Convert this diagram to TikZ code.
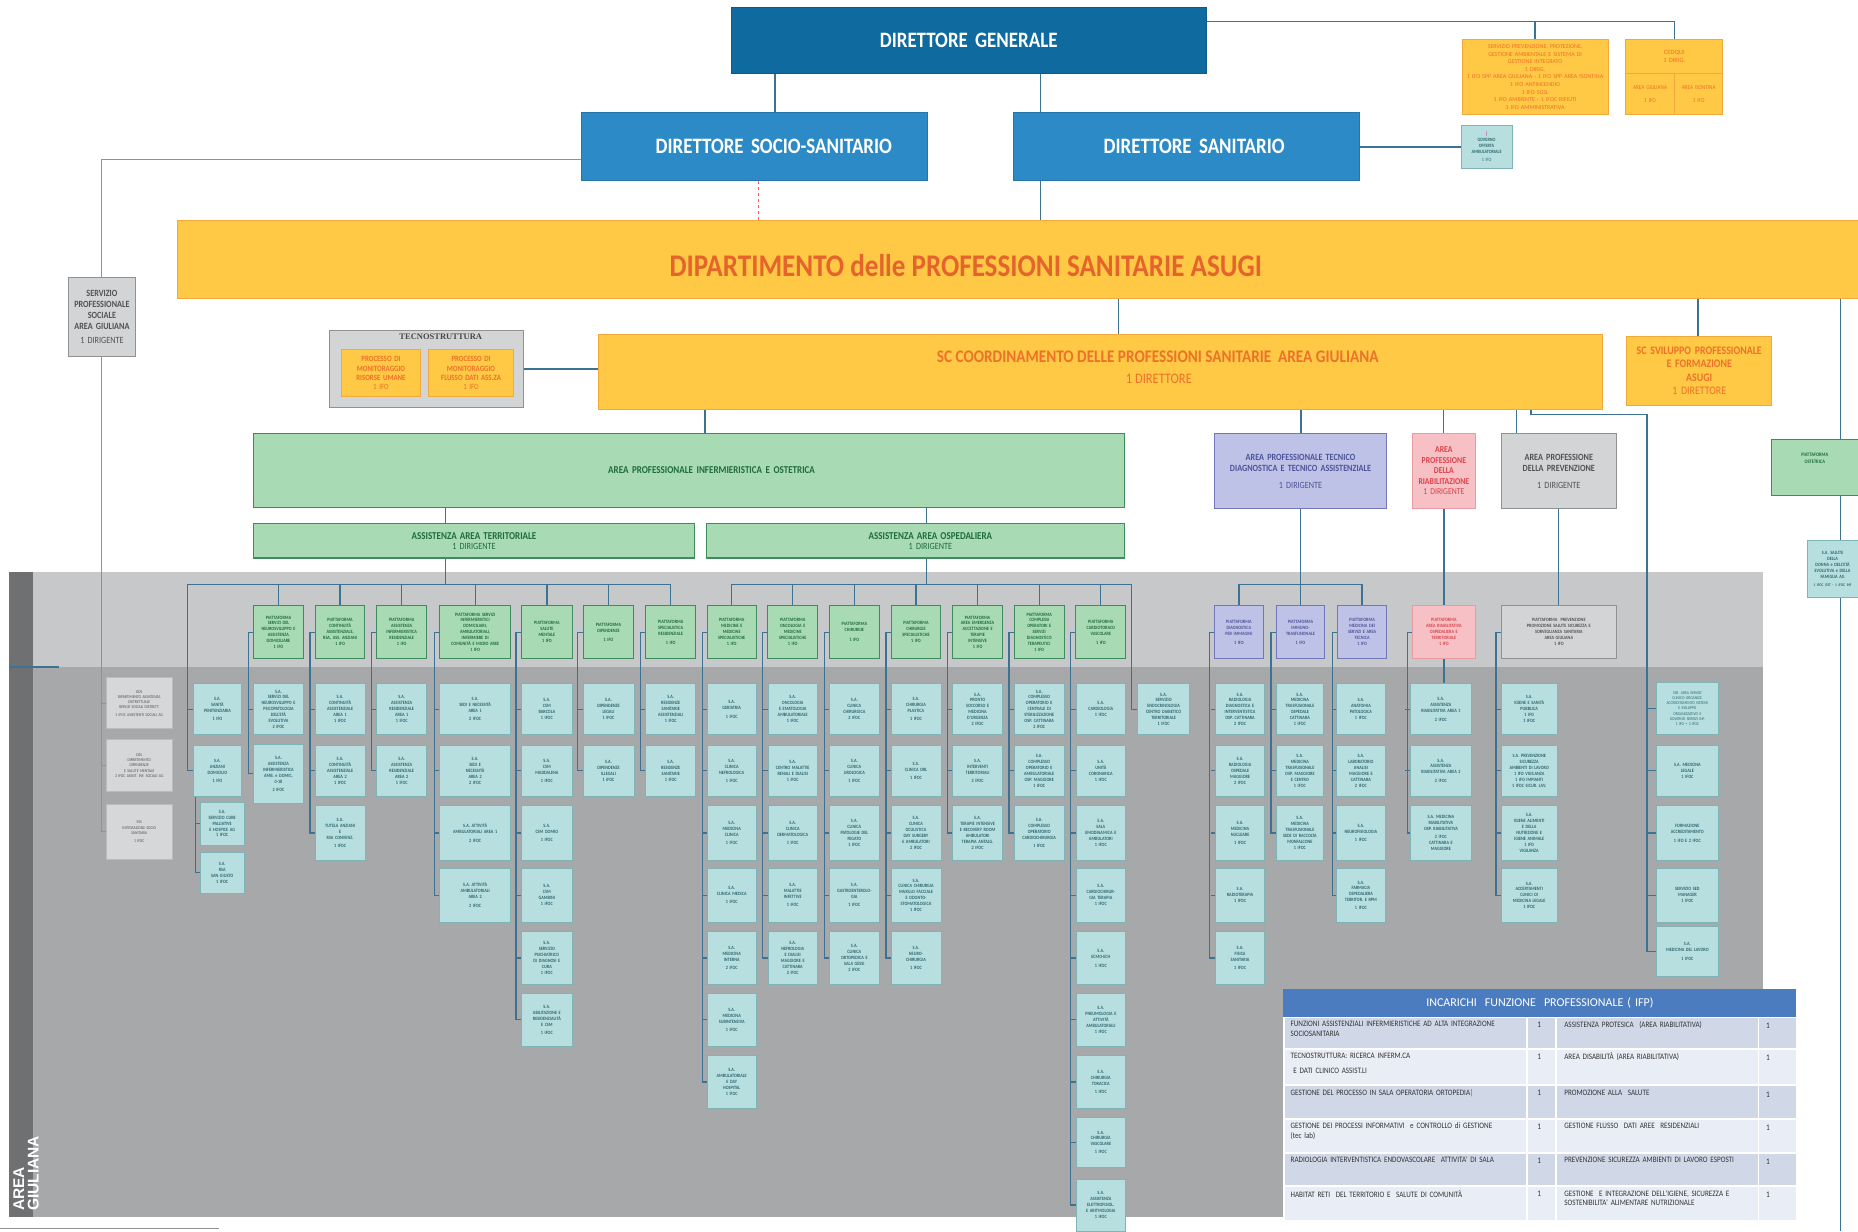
\documentclass[tikz,border=0pt]{standalone}
\usepackage{fontspec}
\setmainfont{Carlito}
\newfontfamily\condf[FakeStretch=0.86]{Carlito}
\newfontfamily\serff{Liberation Serif}
\newfontfamily\sansb{Liberation Sans}
\usetikzlibrary{calc}
\definecolor{dgblue}{HTML}{0E6A9F}
\definecolor{dsblue}{HTML}{2C8BC6}
\definecolor{goldf}{HTML}{FFC845}
\definecolor{goldb}{HTML}{F2A93B}
\definecolor{orangetxt}{HTML}{EC7229}
\definecolor{diptxt}{HTML}{E4642B}
\definecolor{greenf}{HTML}{A8DBB3}
\definecolor{greenb}{HTML}{3E8C5E}
\definecolor{greent}{HTML}{1F6B3C}
\definecolor{tealf}{HTML}{B7DFDF}
\definecolor{tealb}{HTML}{7FB3B6}
\definecolor{tealt}{HTML}{2F6770}
\definecolor{purf}{HTML}{BEC2E7}
\definecolor{purb}{HTML}{7177BA}
\definecolor{purt}{HTML}{4C5399}
\definecolor{pinkf}{HTML}{F7C0C4}
\definecolor{pinkb}{HTML}{E89CA2}
\definecolor{pinkt}{HTML}{D8434C}
\definecolor{greyf}{HTML}{D3D4D5}
\definecolor{greyb}{HTML}{8F9193}
\definecolor{greyt}{HTML}{505254}
\definecolor{lgf}{HTML}{D6D7D8}
\definecolor{lgb}{HTML}{B9BBBD}
\definecolor{linec}{HTML}{3D7392}
\definecolor{bandl}{HTML}{C7C8C9}
\definecolor{bandd}{HTML}{A6A8AA}
\definecolor{bands}{HTML}{6E7072}
\definecolor{tabhead}{HTML}{4B7CBF}
\definecolor{tabrowd}{HTML}{D0D8E8}
\definecolor{tabrowl}{HTML}{E9EDF5}
\newcommand\tinyf{\condf\bfseries\fontsize{4.9}{5.9}\selectfont\hyphenpenalty=10000\exhyphenpenalty=10000\relax}
\newcommand\tinyg{\condf\fontsize{4.3}{5.2}\selectfont\hyphenpenalty=10000\exhyphenpenalty=10000\relax}
\tikzset{
 conn/.style={draw=linec, line width=1.3pt},
 gconn/.style={draw=greyb, line width=1pt},
 rconn/.style={draw=red!65, line width=1.3pt, dashed},
 dgbox/.style={fill=dgblue, draw=dgblue!85!black, line width=0.8pt, text=white, font=\condf\bfseries\fontsize{22}{25}\selectfont},
 dsbox/.style={fill=dsblue, draw=dsblue!85!black, line width=0.8pt, text=white, font=\condf\bfseries\fontsize{22}{25}\selectfont},
 goldbox/.style={fill=goldf, draw=goldb, line width=1pt, text=orangetxt},
 greenbox/.style={fill=greenf, draw=greenb, line width=1.3pt, text=greent},
 sabox/.style={fill=tealf, draw=tealb, line width=0.7pt, text=tealt, font=\tinyf},
 platbox/.style={fill=greenf, draw=greenb, line width=1pt, text=greent, font=\tinyf},
 purbox/.style={fill=purf, draw=purb, line width=1pt, text=purt},
 pinkbox/.style={fill=pinkf, draw=pinkb, line width=1pt, text=pinkt},
 greybox/.style={fill=greyf, draw=greyb, line width=1pt, text=greyt},
 lgbox/.style={fill=lgf, draw=lgb, line width=0.6pt, text=greyt, font=\tinyg},
 tabtxt/.style={anchor=north west, align=left, inner sep=0pt, text=black!80, font=\condf\fontsize{8.3}{9.6}\selectfont},
 tabnum/.style={anchor=north, inner sep=0pt, text=black!80, font=\condf\fontsize{8.5}{9.6}\selectfont},
}
% #1 style, #2 name, #3 x1, #4 y1, #5 x2, #6 y2, #7 text
\newcommand\obox[7][]{%
 \pgfmathsetmacro\obw{(#5-#3)*1.185}%
 \pgfmathsetmacro\obh{(#6-#4)*1.185}%
 \pgfmathsetmacro\obtw{max((#5-#3)*1.185-2,1)}%
 \node[#1, minimum width=\obw pt, minimum height=\obh pt, text width=\obtw pt, inner sep=0pt, align=center] (#2) at ({(#3+#5)/2},{(#4+#6)/2}) {#7};}
\newcommand\setrowy[1]{\ifcase#1\or\def\ya{577}\def\yb{620}\or\def\ya{629}\def\yb{672}\or\def\ya{680}\def\yb{726}\or\def\ya{733}\def\yb{778}\or\def\ya{786}\def\yb{831}\or\def\ya{838}\def\yb{883}\or\def\ya{891}\def\yb{935}\or\def\ya{943}\def\yb{985}\or\def\ya{995}\def\yb{1039}\fi}
% #1 style, #2 name, #3 x1, #4 x2, #5 row, #6 text
\newcommand\sabx[6][sabox]{\setrowy{#5}\obox[#1]{#2}{#3}{\ya}{#4}{\yb}{#6}}
\newcommand\platx[5][platbox]{\obox[#1]{#2}{#3}{511}{#4}{556}{#5}}
\newcommand\colconn[3]{%
 \draw[conn] (#1.west) -- ++(-4,0) |- (#2.west);
 \foreach \b in {#3} {\draw[conn] (\b.west) -- ++(-4,0);}}
\newcommand\tabrowx[6]{%
 \fill[#4] (1084,#2+0.8) rectangle (1288.2,#3-0.8);
 \fill[#4] (1289.8,#2+0.8) rectangle (1312.2,#3-0.8);
 \fill[#4] (1313.8,#2+0.8) rectangle (1483.2,#3-0.8);
 \fill[#4] (1484.8,#2+0.8) rectangle (1516,#3-0.8);
 \node[tabtxt, text width=238pt] (tl#1) at (1089,#2+3.5) {#5};
 \node[tabnum] (tn#1) at (1299,#2+4) {1};
 \node[tabtxt, text width=198pt] (tr#1) at (1320,#2+3.5) {#6};
 \node[tabnum] (tm#1) at (1492,#2+5) {1};}
\begin{document}
\begin{tikzpicture}[x=1.185pt, y=-1.185pt]
\useasboundingbox (0,0) rectangle (1568,1039);
\fill[white] (0,0) rectangle (1568,1039);
% band
\fill[bandl] (8,483) rectangle (1488,563);
\fill[bandd] (8,563) rectangle (1488,1027);
\fill[bands] (8,483) rectangle (28,1027);
\node[rotate=90, anchor=west, align=left, text=white, inner sep=0pt, font=\sansb\bfseries\fontsize{15.5}{14.5}\selectfont] (agl) at (22,1022) {AREA\\GIULIANA};
\coordinate (lm1) at (8,563); \coordinate (lm2) at (50,563);
\draw[conn] (lm1) -- (lm2);
\coordinate (lb1) at (0,1037); \coordinate (lb2) at (185,1037);
\draw[gconn, line width=0.7pt] (lb1) -- (lb2);

% top
\obox[dgbox]{dg}{617}{6}{1018}{62}{DIRETTORE GENERALE}
\obox[dsbox]{dss}{491}{95}{783}{152}{\hspace*{38pt}DIRETTORE SOCIO-SANITARIO}
\obox[dsbox]{ds}{855}{95}{1147}{152}{\hspace*{16pt}DIRETTORE SANITARIO}
\obox[goldbox, font=\fontsize{6}{7.6}\selectfont]{serv}{1234}{33}{1357}{97}{SERVIZIO PREVENZIONE, PROTEZIONE,\\GESTIONE AMBIENTALE E SISTEMA DI\\GESTIONE INTEGRATO\\1 DIRIG.\\1 IFO SPP AREA GIULIANA - 1 IFO SPP AREA ISONTINA\\1 IFO ANTINCENDIO\\1 IFO SGSL\\1 IFO AMBIENTE - 1 IFOC RIFIUTI\\1 IFO AMMINISTRATIVA}
\obox[goldbox, font=\fontsize{6.5}{7.8}\selectfont]{ced}{1372}{33}{1454}{62}{CEDQUI\\1 DIRIG.}
\obox[goldbox, font=\condf\fontsize{6}{7.2}\selectfont]{cedA}{1372}{62}{1413}{97}{AREA GIULIANA\\[6pt]1 IFO}
\obox[goldbox, font=\condf\fontsize{6}{7.2}\selectfont]{cedB}{1413}{62}{1454}{97}{AREA ISONTINA\\[6pt]1 IFO}
\obox[sabox, font=\condf\bfseries\fontsize{4.9}{5.8}\selectfont]{gov}{1233}{106}{1276}{142}{{\color{magenta}|}\\GOVERNO\\OFFERTA\\AMBULATORIALE\\[3pt]\mdseries 1 IFO}

% dipartimento
\obox[goldbox]{dip}{150}{186}{1580}{252}{}
\node[text=diptxt, inner sep=0pt, font=\condf\bfseries\fontsize{31.5}{34}\selectfont] (diptext) at (815,224) {DIPARTIMENTO delle PROFESSIONI SANITARIE ASUGI};
\obox[greybox, font=\condf\fontsize{9.5}{11}\selectfont]{sps}{58}{234}{114}{301}{\textbf{SERVIZIO}\\\textbf{PROFESSIONALE}\\\textbf{SOCIALE}\\\textbf{AREA GIULIANA}\\[3pt]1 DIRIGENTE}
\obox[greybox]{tec}{278}{279}{442}{344}{}
\node[font=\serff\bfseries\fontsize{8.5}{10}\selectfont, text=black!72, inner sep=0pt] (tect) at (372,284) {TECNOSTRUTTURA};
\obox[goldbox, font=\condf\bfseries\fontsize{8}{9.4}\selectfont]{tecA}{288}{295}{355}{335}{PROCESSO DI\\MONITORAGGIO\\RISORSE UMANE\\\mdseries 1 IFO}
\obox[goldbox, font=\condf\bfseries\fontsize{8}{9.4}\selectfont]{tecB}{362}{295}{433}{335}{PROCESSO DI\\MONITORAGGIO\\FLUSSO DATI ASS.ZA\\\mdseries 1 IFO}
\obox[goldbox]{sc}{505}{282}{1352}{346}{}
\node[text=orangetxt, inner sep=0pt, font=\condf\bfseries\fontsize{17.7}{20}\selectfont] (sct) at (977,301) {SC COORDINAMENTO DELLE PROFESSIONI SANITARIE\ \ AREA GIULIANA};
\node[text=orangetxt, inner sep=0pt, font=\condf\fontsize{14.5}{16}\selectfont] (scd) at (978,320) {1 DIRETTORE};
\obox[goldbox, font=\condf\fontsize{11.5}{13.5}\selectfont]{scsv}{1373}{284}{1495}{342}{\textbf{SC SVILUPPO PROFESSIONALE}\\\textbf{E FORMAZIONE}\\\textbf{ASUGI}\\1 DIRETTORE}

% areas
\obox[greenbox, font=\condf\bfseries\fontsize{10.5}{12}\selectfont]{ga}{214}{366}{949}{428}{\hspace*{45pt}AREA PROFESSIONALE INFERMIERISTICA E OSTETRICA}
\obox[greenbox, font=\condf\fontsize{9.5}{10.5}\selectfont]{at}{214}{442}{586}{471}{\textbf{\fontsize{10.5}{11}\selectfont ASSISTENZA AREA TERRITORIALE}\\1 DIRIGENTE}
\obox[greenbox, font=\condf\fontsize{9.5}{10.5}\selectfont]{os}{596}{442}{949}{471}{\hspace*{30pt}\textbf{\fontsize{10.5}{11}\selectfont ASSISTENZA AREA OSPEDALIERA}\\\hspace*{30pt}1 DIRIGENTE}
\obox[purbox, font=\condf\fontsize{9.5}{11}\selectfont]{pa}{1025}{366}{1170}{429}{\textbf{AREA PROFESSIONALE TECNICO}\\\textbf{DIAGNOSTICA E TECNICO ASSISTENZIALE}\\[6pt]1 DIRIGENTE}
\obox[pinkbox, font=\condf\fontsize{9}{10.5}\selectfont]{pk}{1192}{366}{1245}{429}{\textbf{AREA}\\\textbf{PROFESSIONE}\\\textbf{DELLA}\\\textbf{RIABILITAZIONE}\\1 DIRIGENTE}
\obox[greybox, font=\condf\fontsize{9.5}{11}\selectfont]{gp}{1267}{366}{1364}{429}{\textbf{AREA PROFESSIONE}\\\textbf{DELLA PREVENZIONE}\\[6pt]1 DIRIGENTE}
\obox[platbox, font=\condf\bfseries\fontsize{5.2}{6.2}\selectfont]{ost}{1495}{371}{1568}{418}{PIATTAFORMA\\OSTETRICA\\[12pt]~}
\obox[sabox]{sad}{1525}{456}{1568}{504}{S.A. SALUTE\\DELLA\\DONNA e DELL'ETÀ\\EVOLUTIVA e DELLA\\FAMIGLIA AG\\[2pt]{\fontsize{4}{5}\selectfont 1 IFOC OST - 1 IFOC INF}}

% platforms
\platx{p1}{214}{256}{PIATTAFORMA\\SERVIZI DEL\\NEUROSVILUPPO E\\ASSISTENZA\\DOMICILIARE\\1 IFO}
\platx{p2}{266}{308}{PIATTAFORMA\\CONTINUITÀ\\ASSISTENZIALE,\\RSA, ASS. ANZIANI\\1 IFO}
\platx{p3}{318}{360}{PIATTAFORMA\\ASSISTENZA\\INFERMIERISTICA\\RESIDENZIALE\\1 IFO}
\platx{p4}{371}{431}{PIATTAFORMA SERVIZI\\INFERMIERISTICI\\DOMICILIARI,\\AMBULATORIALI,\\INFERMIERE DI\\COMUNITÀ E MICRO AREE\\1 IFO}
\platx{p5}{440}{483}{PIATTAFORMA\\SALUTE\\MENTALE\\1 IFO}
\platx{p6}{492}{535}{PIATTAFORMA\\DIPENDENZE\\[3pt]1 IFO}
\platx{p7}{545}{587}{PIATTAFORMA\\SPECIALISTICA\\RESIDENZIALE\\[3pt]1 IFO}
\platx{p8}{597}{638}{PIATTAFORMA\\MEDICINE E\\MEDICINE\\SPECIALISTICHE\\1 IFO}
\platx{p9}{648}{690}{PIATTAFORMA\\ONCOLOGIA E\\MEDICINE\\SPECIALISTICHE\\1 IFO}
\platx{p10}{700}{742}{PIATTAFORMA\\CHIRURGIE\\[4pt]1 IFO}
\platx{p11}{752}{794}{PIATTAFORMA\\CHIRURGIE\\SPECIALISTICHE\\1 IFO}
\platx{p12}{804}{846}{PIATTAFORMA\\AREA EMERGENZA\\ACCETTAZIONE E\\TERAPIE\\INTENSIVE\\1 IFO}
\platx{p13}{856}{898}{PIATTAFORMA\\COMPLESSI\\OPERATORI E\\SERVIZI\\DIAGNOSTICO\\TERAPEUTICI\\1 IFO}
\platx{p14}{908}{950}{PIATTAFORMA\\CARDIOTORACO\\VASCOLARE\\[3pt]1 IFO}
\platx[platbox, fill=purf, draw=purb, text=purt]{q1}{1025}{1066}{PIATTAFORMA\\DIAGNOSTICA\\PER IMMAGINI\\[3pt]1 IFO}
\platx[platbox, fill=purf, draw=purb, text=purt]{q2}{1077}{1118}{PIATTAFORMA\\IMMUNO-\\TRASFUSIONALE\\[3pt]1 IFO}
\platx[platbox, fill=purf, draw=purb, text=purt]{q3}{1129}{1170}{PIATTAFORMA\\MEDICINA DEI\\SERVIZI E AREA\\TECNICA\\1 IFO}
\platx[platbox, fill=pinkf, draw=pinkb, text=pinkt]{kp}{1192}{1245}{PIATTAFORMA\\AREA RIABILITATIVA\\OSPEDALIERA E\\TERRITORIALE\\1 IFO}
\platx[platbox, fill=greyf, draw=greyb, text=greyt]{gpl}{1267}{1364}{PIATTAFORMA\ \ PREVENZIONE\\PROMOZIONE SALUTE SICUREZZA E\\SORVEGLIANZA SANITARIA\\AREA GIULIANA\\1 IFO}

% left grey boxes
\obox[lgbox]{lg1}{90}{572}{145}{615}{DDS\\DIPARTIMENTO ASSISTENZA\\DISTRETTUALE\\SERVIZI SOCIALI DISTRETT.\\[2pt]1 IFOC ASSISTENTI SOCIALI AG}
\obox[lgbox]{lg2}{90}{624}{145}{668}{DSS\\DIPARTIMENTO\\DIPENDENZE\\E SALUTE MENTALE\\2 IFOC ASSIST. INF. SOCIALI AG}
\obox[lgbox]{lg3}{90}{679}{145}{725}{SSS\\INTEGRAZIONE SOCIO\\SANITARIA\\[3pt]1 IFOC}

% column A
\sabx{a1}{163}{204}{1}{S.A.\\SANITÀ\\PENITENZIARIA\\[2pt]1 IFO}
\sabx{a2}{163}{204}{2}{S.A.\\ANZIANI\\DOMICILIO\\[2pt]1 IFO}
\obox[sabox]{a3}{169}{677}{206}{713}{S.A.\\SERVIZIO CURE\\PALLIATIVE\\E HOSPICE AG\\1 IFOC}
\obox[sabox]{a4}{169}{719}{206}{754}{S.A.\\RSA\\SAN GIUSTO\\1 IFOC}
% column B
\sabx{b1}{214}{256}{1}{S.A.\\SERVIZI DEL\\NEUROSVILUPPO E\\PSICOPATOLOGIA\\DELL'ETÀ\\EVOLUTIVA\\2 IFOC}
\obox[sabox]{b2}{214}{628}{256}{678}{S.A.\\ASSISTENZA\\INFERMIERISTICA\\AMB. e DOMIC.\\0-18\\[2pt]2 IFOC}
% column C
\sabx{c1}{266}{308}{1}{S.A.\\CONTINUITÀ\\ASSISTENZIALE\\AREA 1\\1 IFOC}
\sabx{c2}{266}{308}{2}{S.A.\\CONTINUITÀ\\ASSISTENZIALE\\AREA 2\\1 IFOC}
\sabx{c3}{266}{308}{3}{S.A.\\TUTELA ANZIANI\\E\\RSA CONVENZ.\\[2pt]1 IFOC}
% column D
\sabx{d1}{318}{360}{1}{S.A.\\ASSISTENZA\\RESIDENZIALE\\AREA 1\\1 IFOC}
\sabx{d2}{318}{360}{2}{S.A.\\ASSISTENZA\\RESIDENZIALE\\AREA 2\\1 IFOC}
% column E
\sabx{e1}{371}{431}{1}{S.A.\\SEDI E NECESSITÀ\\AREA 1\\[2pt]2 IFOC}
\sabx{e2}{371}{431}{2}{S.A.\\SEDI E\\NECESSITÀ\\AREA 2\\2 IFOC}
\sabx{e3}{371}{431}{3}{S.A. ATTIVITÀ\\AMBULATORIALI AREA 1\\[4pt]2 IFOC}
\sabx{e4}{371}{431}{4}{S.A. ATTIVITÀ\\AMBULATORIALI\\AREA 2\\[3pt]2 IFOC}
% column F
\sabx{f1}{440}{483}{1}{S.A.\\CSM\\BARCOLA\\1 IFOC}
\sabx{f2}{440}{483}{2}{S.A.\\CSM\\MADDALENA\\[2pt]1 IFOC}
\sabx{f3}{440}{483}{3}{S.A.\\CSM DOMIO\\[2pt]1 IFOC}
\sabx{f4}{440}{483}{4}{S.A.\\CSM\\GAMBINI\\1 IFOC}
\sabx{f5}{440}{483}{5}{S.A.\\SERVIZIO\\PSICHIATRICO\\DI DIAGNOSI E\\CURA\\1 IFOC}
\sabx{f6}{440}{483}{6}{S.A.\\ABILITAZIONE E\\RESIDENZIALITÀ\\E CSM\\[2pt]1 IFOC}
% column G
\sabx{g1}{492}{535}{1}{S.A.\\DIPENDENZE\\LEGALI\\1 IFOC}
\sabx{g2}{492}{535}{2}{S.A.\\DIPENDENZE\\ILLEGALI\\1 IFOC}
% column H
\sabx{h1}{545}{587}{1}{S.A.\\RESIDENZE\\SANITARIE\\ASSISTENZIALI\\1 IFOC}
\sabx{h2}{545}{587}{2}{S.A.\\RESIDENZE\\SANITARIE\\1 IFOC}
% column I
\sabx{i1}{597}{638}{1}{S.A.\\GERIATRIA\\[3pt]1 IFOC}
\sabx{i2}{597}{638}{2}{S.A.\\CLINICA\\NEFROLOGICA\\[2pt]1 IFOC}
\sabx{i3}{597}{638}{3}{S.A.\\MEDICINA\\CLINICA\\[2pt]1 IFOC}
\sabx{i4}{597}{638}{4}{S.A.\\CLINICA MEDICA\\[2pt]1 IFOC}
\sabx{i5}{597}{638}{5}{S.A.\\MEDICINA\\INTERNA\\[2pt]2 IFOC}
\sabx{i6}{597}{638}{6}{S.A.\\MEDICINA\\SUBINTENSIVA\\[2pt]1 IFOC}
\sabx{i7}{597}{638}{7}{S.A.\\AMBULATORIALE\\E DAY\\HOSPITAL\\1 IFOC}
% column J
\sabx{j1}{648}{690}{1}{S.A.\\ONCOLOGIA\\E EMATOLOGIA\\AMBULATORIALE\\1 IFOC}
\sabx{j2}{648}{690}{2}{S.A.\\CENTRO MALATTIE\\RENALI E DIALISI\\1 IFOC}
\sabx{j3}{648}{690}{3}{S.A.\\CLINICA\\DERMATOLOGICA\\[2pt]1 IFOC}
\sabx{j4}{648}{690}{4}{S.A.\\MALATTIE\\INFETTIVE\\[2pt]1 IFOC}
\sabx{j5}{648}{690}{5}{S.A.\\NEFROLOGIA\\E DIALISI\\MAGGIORE E\\CATTINARA\\2 IFOC}
% column K
\sabx{k1}{700}{742}{1}{S.A.\\CLINICA\\CHIRURGICA\\2 IFOC}
\sabx{k2}{700}{742}{2}{S.A.\\CLINICA\\UROLOGICA\\[2pt]1 IFOC}
\sabx{k3}{700}{742}{3}{S.A.\\CLINICA\\PATOLOGIE DEL\\FEGATO\\1 IFOC}
\sabx{k4}{700}{742}{4}{S.A.\\GASTROENTEROLO-\\GIA\\[2pt]1 IFOC}
\sabx{k5}{700}{742}{5}{S.A.\\CLINICA\\ORTOPEDICA E\\SALA GESSI\\2 IFOC}
% column L
\sabx{l1}{752}{794}{1}{S.A.\\CHIRURGIA\\PLASTICA\\[2pt]1 IFOC}
\sabx{l2}{752}{794}{2}{S.A.\\CLINICA ORL\\[2pt]1 IFOC}
\sabx{l3}{752}{794}{3}{S.A.\\CLINICA\\OCULISTICA\\DAY SURGERY\\E AMBULATORI\\2 IFOC}
\sabx{l4}{752}{794}{4}{S.A.\\CLINICA CHIRURGIA\\MAXILLO FACCIALE\\E ODONTO-\\STOMATOLOGICA\\1 IFOC}
\sabx{l5}{752}{794}{5}{S.A.\\NEURO-\\CHIRURGIA\\[2pt]1 IFOC}
% column M
\sabx{m1}{804}{846}{1}{S.A.\\PRONTO\\SOCCORSO E\\MEDICINA\\D'URGENZA\\2 IFOC}
\sabx{m2}{804}{846}{2}{S.A.\\INTERVENTI\\TERRITORIALI\\[2pt]2 IFOC}
\sabx{m3}{804}{846}{3}{S.A.\\TERAPIE INTENSIVE\\E RECOVERY ROOM\\AMBULATORI\\TERAPIA ANTALG.\\2 IFOC}
% column N
\sabx{n1}{856}{898}{1}{S.A.\\COMPLESSO\\OPERATORIO E\\CENTRALE DI\\STERILIZZAZIONE\\OSP. CATTINARA\\2 IFOC}
\sabx{n2}{856}{898}{2}{S.A.\\COMPLESSO\\OPERATORIO E\\AMBULATORIALE\\OSP. MAGGIORE\\1 IFOC}
\sabx{n3}{856}{898}{3}{S.A.\\COMPLESSO\\OPERATORIO\\CARDIOCHIRURGIA\\[2pt]1 IFOC}
% column O
\sabx{o1}{908}{950}{1}{S.A.\\CARDIOLOGIA\\1 IFOC}
\sabx{o2}{908}{950}{2}{S.A.\\UNITÀ\\CORONARICA\\1 IFOC}
\sabx{o3}{908}{950}{3}{S.A.\\SALA\\EMODINAMICA E\\AMBULATORI\\1 IFOC}
\sabx{o4}{908}{950}{4}{S.A.\\CARDIOCHIRUR-\\GIA TERAPIA\\1 IFOC}
\sabx{o5}{908}{950}{5}{S.A.\\ECMO-ECH\\[3pt]1 IFOC}
\sabx{o6}{908}{950}{6}{S.A.\\PNEUMOLOGIA E\\ATTIVITÀ\\AMBULATORIALI\\1 IFOC}
\sabx{o7}{908}{950}{7}{S.A.\\CHIRURGIA\\TORACICA\\[2pt]1 IFOC}
\sabx{o8}{908}{950}{8}{S.A.\\CHIRURGIA\\VASCOLARE\\[2pt]1 IFOC}
\sabx{o9}{908}{950}{9}{S.A.\\ASSISTENZA\\ELETTROFISIOL.\\E ARITMOLOGIA\\1 IFOC}
\sabx{x1}{960}{1004}{1}{S.A.\\SERVIZIO\\ENDOCRINOLOGIA\\CENTRO DIABETICO\\TERRITORIALE\\1 IFOC}
% purple columns
\sabx{u1}{1026}{1067}{1}{S.A.\\RADIOLOGIA\\DIAGNOSTICA E\\INTERVENTISTICA\\OSP. CATTINARA\\2 IFOC}
\sabx{u2}{1026}{1067}{2}{S.A.\\RADIOLOGIA\\OSPEDALE\\MAGGIORE\\2 IFOC}
\sabx{u3}{1026}{1067}{3}{S.A.\\MEDICINA\\NUCLEARE\\[2pt]1 IFOC}
\sabx{u4}{1026}{1067}{4}{S.A.\\RADIOTERAPIA\\1 IFOC}
\sabx{u5}{1026}{1067}{5}{S.A.\\FISICA\\SANITARIA\\[2pt]1 IFOC}
\sabx{v1}{1077}{1117}{1}{S.A.\\MEDICINA\\TRASFUSIONALE\\OSPEDALE\\CATTINARA\\1 IFOC}
\sabx{v2}{1077}{1117}{2}{S.A.\\MEDICINA\\TRASFUSIONALE\\OSP. MAGGIORE\\E CENTRO\\1 IFOC}
\sabx{v3}{1077}{1117}{3}{S.A.\\MEDICINA\\TRASFUSIONALE\\SEDE DI RACCOLTA\\MONFALCONE\\1 IFOC}
\sabx{w1}{1128}{1169}{1}{S.A.\\ANATOMIA\\PATOLOGICA\\1 IFOC}
\sabx{w2}{1128}{1169}{2}{S.A.\\LABORATORIO\\ANALISI\\MAGGIORE E\\CATTINARA\\2 IFOC}
\sabx{w3}{1128}{1169}{3}{S.A.\\NEUROFISIOLOGIA\\[2pt]1 IFOC}
\sabx{w4}{1128}{1169}{4}{S.A.\\FARMACIA\\OSPEDALIERA\\TERRITOR. E RPM\\[2pt]1 IFOC}
% pink column
\sabx{rk1}{1190}{1242}{1}{S.A.\\ASSISTENZA\\RIABILITATIVA AREA 1\\[3pt]2 IFOC}
\sabx{rk2}{1190}{1242}{2}{S.A.\\ASSISTENZA\\RIABILITATIVA AREA 2\\[3pt]2 IFOC}
\sabx{rk3}{1190}{1242}{3}{S.A. MEDICINA\\RIABILITATIVA\\OSP. RIABILITATIVA\\[2pt]2 IFOC\\CATTINARA E\\MAGGIORE}
% grey column
\sabx{gg1}{1267}{1314}{1}{S.A.\\IGIENE E SANITÀ\\PUBBLICA\\1 IFO\\1 IFOC}
\sabx{gg2}{1267}{1314}{2}{S.A. PREVENZIONE\\SICUREZZA\\AMBIENTI DI LAVORO\\1 IFO VIGILANZA\\1 IFO IMPIANTI\\1 IFOC SICUR. LAV.}
\sabx{gg3}{1267}{1314}{3}{S.A.\\IGIENE ALIMENTI\\E DELLA\\NUTRIZIONE E\\IGIENE ANIMALE\\1 IFO\\VIGILANZA}
\sabx{gg4}{1267}{1314}{4}{S.A.\\ACCERTAMENTI\\CLINICI DI\\MEDICINA LEGALE\\1 IFOC}
% right column
\obox[sabox, font=\tinyg]{rc1}{1398}{576}{1450}{620}{DIR. AREA SERVIZI\\CLINICO ORGANIZZ.\\ACCREDITAMENTO SISTEMI\\E SVILUPPO\\ORGANIZZATIVO E\\GOVERNO SERVIZI INF.\\1 IFO + 3 IFOC}
\obox[sabox]{rc2}{1398}{629}{1450}{672}{S.A. MEDICINA\\LEGALE\\1 IFOC}
\obox[sabox]{rc3}{1398}{680}{1450}{726}{FORMAZIONE\\ACCREDITAMENTO\\[3pt]1 IFO E 2 IFOC}
\obox[sabox]{rc4}{1398}{733}{1450}{778}{SERVIZIO SED\\MANAGER\\1 IFOC}
\obox[sabox]{rc5}{1398}{782}{1450}{824}{S.A.\\MEDICINA DEL LAVORO\\[3pt]1 IFOC}

% table
\fill[white] (1083,835) rectangle (1516,1030);
\obox[fill=tabhead, text=white, font=\fontsize{12}{14}\selectfont]{th}{1083}{835}{1516}{858}{INCARICHI\ \ FUNZIONE\ \ PROFESSIONALE ( IFP)}
\tabrowx{1}{858}{885}{tabrowd}{FUNZIONI ASSISTENZIALI INFERMIERISTICHE AD ALTA INTEGRAZIONE\\SOCIOSANITARIA}{ASSISTENZA PROTESICA\ \ (AREA RIABILITATIVA)}
\tabrowx{2}{885}{916}{tabrowl}{TECNOSTRUTTURA: RICERCA INFERM.CA\\[5pt]\ E DATI CLINICO ASSIST.LI}{AREA DISABILITÀ (AREA RIABILITATIVA)}
\tabrowx{3}{916}{944}{tabrowd}{GESTIONE DEL PROCESSO IN SALA OPERATORIA ORTOPEDIA{\color{magenta}|}}{PROMOZIONE ALLA\ \ SALUTE}
\tabrowx{4}{944}{973}{tabrowl}{GESTIONE DEI PROCESSI INFORMATIVI\ \ e CONTROLLO di GESTIONE\\(tec lab)}{GESTIONE FLUSSO\ \ DATI AREE\ \ RESIDENZIALI}
\tabrowx{5}{973}{1001}{tabrowd}{RADIOLOGIA INTERVENTISTICA ENDOVASCOLARE\ \ ATTIVITA' DI SALA}{PREVENZIONE SICUREZZA AMBIENTI DI LAVORO ESPOSTI}
\tabrowx{6}{1001}{1030}{tabrowl}{HABITAT RETI\ \ DEL TERRITORIO E\ \ SALUTE DI COMUNITÀ}{GESTIONE\ \ E INTEGRAZIONE DELL'IGIENE, SICUREZZA E\\SOSTENIBILITA' ALIMENTARE NUTRIZIONALE}

% coordinates for connectors
\coordinate (xa) at (654,0); \coordinate (xb) at (878,0); \coordinate (xc) at (640,0);
\coordinate (xd) at (944,0); \coordinate (xe) at (1433,0); \coordinate (xf) at (1553,0);
\coordinate (xg) at (595,0); \coordinate (xh) at (1098,0); \coordinate (xi) at (1218,0);
\coordinate (xj) at (1280,0); \coordinate (xk) at (1292,0); \coordinate (xl) at (1390,0);
\coordinate (xm) at (376,0); \coordinate (xn) at (782,0);
\coordinate (ytr) at (0,18); \coordinate (ydsl) at (0,135); \coordinate (yk) at (0,350);
\coordinate (bus) at (0,493); \coordinate (tbl) at (158,493); \coordinate (hbr) at (955,493);
\coordinate (asub) at (165,0); \coordinate (rbot) at (1553,1039);

% connectors top
\draw[conn] (dg.south -| xa) -- (dss.north -| xa);
\draw[conn] (dg.south -| xb) -- (ds.north -| xb);
\draw[conn] (dg.east |- ytr) -| (ced.north);
\draw[conn] (serv.north) -- (serv.north |- ytr);
\draw[conn] (gov.west) -- (gov.west -| ds.east);
\draw[rconn] (dss.south -| xc) -- (dip.north -| xc);
\draw[conn] (ds.south -| xb) -- (dip.north -| xb);
\draw[gconn] (dss.west |- ydsl) -| (sps.north);
\draw[gconn] (sps.south) |- (lg3.west);
\foreach \b in {lg1,lg2} {\draw[gconn] (\b.west) -- (\b.west -| sps.south);}
\draw[conn] (dip.south -| xd) -- (sc.north -| xd);
\draw[conn] (dip.south -| xe) -- (scsv.north -| xe);
\draw[conn] (dip.south -| xf) -- (ost.north -| xf);
\draw[conn] (ost.south -| xf) -- (sad.north -| xf);
\draw[conn] (sad.south -| xf) -- (rbot);
\draw[conn] (tec.east) -- (tec.east -| sc.west);
\draw[conn] (sc.south -| xg) -- (ga.north -| xg);
\draw[conn] (sc.south -| xh) -- (pa.north -| xh);
\draw[conn] (sc.south -| xi) -- (pk.north -| xi);
\draw[conn] (sc.south -| xj) -- (gp.north -| xj);
\draw[conn] (sc.south -| xk) |- (xl |- yk) |- (rc5.west);
\foreach \b in {rc1,rc2,rc3,rc4} {\draw[conn] (\b.west) -- (\b.west -| xl);}
\draw[conn] (ga.south -| xm) -- (at.north -| xm);
\draw[conn] (ga.south -| xn) -- (os.north -| xn);
% territorial bus
\draw[conn] (at.south -| xm) -- (xm |- bus);
\draw[conn] (p7.north) -- (p7.north |- bus) -- (tbl) |- (a2.west);
\draw[conn] (a1.west) -- (a1.west -| tbl);
\foreach \p in {p1,p2,p3,p4,p5,p6} {\draw[conn] (\p.north) -- (\p.north |- bus);}
\draw[conn] (a2.south -| asub) |- (a4.west);
\draw[conn] (a3.west) -- (a3.west -| asub);
% hospital bus
\draw[conn] (os.south -| xn) -- (xn |- bus);
\draw[conn] (p8.north) |- (hbr) |- (x1.west);
\foreach \p in {p9,p10,p11,p12,p13,p14} {\draw[conn] (\p.north) -- (\p.north |- bus);}
% purple bus
\draw[conn] (pa.south) -- (pa.south |- bus);
\draw[conn] (q1.north) -- (q1.north |- bus) -- (q3.north |- bus) -- (q3.north);
\draw[conn] (q2.north) -- (q2.north |- bus);
\draw[conn] (pk.south) -- (kp.north);
\draw[conn] (gp.south) -- (gpl.north);
\draw[conn] (kp.south) -- (kp.south |- rk1.north);
% columns
\colconn{p1}{b2}{b1}
\colconn{p2}{c3}{c1,c2}
\colconn{p3}{d2}{d1}
\colconn{p4}{e4}{e1,e2,e3}
\colconn{p5}{f6}{f1,f2,f3,f4,f5}
\colconn{p6}{g2}{g1}
\colconn{p7}{h2}{h1}
\colconn{p8}{i7}{i1,i2,i3,i4,i5,i6}
\colconn{p9}{j5}{j1,j2,j3,j4}
\colconn{p10}{k5}{k1,k2,k3,k4}
\colconn{p11}{l5}{l1,l2,l3,l4}
\colconn{p12}{m3}{m1,m2}
\colconn{p13}{n3}{n1,n2}
\colconn{p14}{o9}{o1,o2,o3,o4,o5,o6,o7,o8}
\colconn{q1}{u5}{u1,u2,u3,u4}
\colconn{q2}{v3}{v1,v2}
\colconn{q3}{w4}{w1,w2,w3}
\colconn{kp}{rk3}{rk1,rk2}
\colconn{gpl}{gg4}{gg1,gg2,gg3}
\end{tikzpicture}
\end{document}
